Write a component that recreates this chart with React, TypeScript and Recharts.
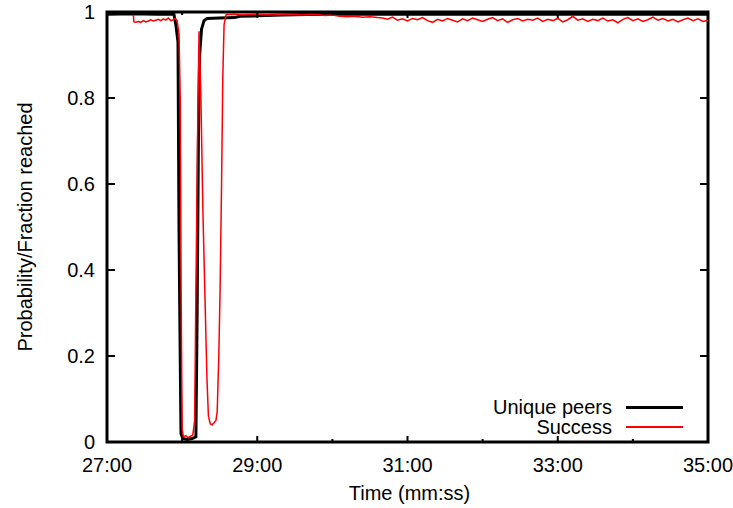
import React from "react";
import { LineChart, Line, XAxis, YAxis, ReferenceArea, Legend } from "recharts";

const FONT = "'Liberation Sans', Arial, Helvetica, sans-serif";

// time in seconds (27:00 = 1620)
const PEERS_T = [
  1620, 1640, 1660, 1672, 1673.5, 1675, 1676.7, 1677.5, 1678.3, 1679.1, 1680.5, 1684, 1688,
  1691, 1692, 1693, 1694, 1695.5, 1697.5, 1700, 1710, 1722, 1726, 1740, 1760, 1780, 1800,
  1850, 1900, 1950, 2000, 2050, 2100,
];
const PEERS_V = [
  0.995, 0.996, 0.995, 0.995, 0.994, 0.97, 0.93, 0.5, 0.25, 0.02, 0.008, 0.006, 0.008,
  0.012, 0.3, 0.7, 0.9, 0.96, 0.98, 0.985, 0.986, 0.987, 0.99, 0.991, 0.993, 0.994, 0.995,
  0.995, 0.995, 0.995, 0.995, 0.995, 0.995,
];

const SUCCESS_T = [
  1641, 1641.5, 1643, 1645, 1647, 1649, 1651, 1653, 1655, 1657, 1659, 1661, 1663, 1665, 1667,
  1669, 1671, 1673, 1674.5,
  1676, 1677.5, 1678.5, 1679.2, 1680, 1681, 1683, 1685, 1687, 1688.5,
  1690, 1691, 1692.5, 1693.5, 1695, 1696.5, 1698.3, 1699.8, 1701, 1702.5, 1704, 1705.5, 1707,
  1708, 1709.3, 1710.3, 1711.5, 1712.5, 1713.5, 1715,
  1716, 1722, 1728, 1734, 1740, 1746, 1752, 1758, 1764, 1770, 1776, 1782, 1788, 1794, 1800,
  1806, 1812, 1818, 1824, 1830, 1836,
  1840, 1844, 1848, 1852, 1856, 1860, 1864, 1868, 1872, 1876, 1880, 1884, 1888, 1892, 1896,
  1900, 1904, 1908, 1912, 1916, 1920, 1924, 1928, 1932, 1936, 1940, 1944, 1948, 1952, 1956,
  1960, 1964, 1968, 1972, 1976, 1980, 1984, 1988, 1992, 1996, 2000, 2004, 2008, 2012, 2016,
  2020, 2024, 2028, 2032, 2036, 2040, 2044, 2048, 2052, 2056, 2060, 2064, 2068, 2072, 2076,
  2080, 2084, 2088, 2092, 2096, 2100,
];
const SUCCESS_V = [
  0.993, 0.977, 0.976, 0.978, 0.976, 0.98, 0.977, 0.979, 0.982, 0.979, 0.981, 0.983, 0.98,
  0.984, 0.981, 0.986, 0.98, 0.982, 0.985,
  0.98, 0.95, 0.8, 0.35, 0.03, 0.012, 0.015, 0.01, 0.014, 0.016,
  0.05, 0.35, 0.75, 0.955, 0.8, 0.55, 0.33, 0.15, 0.06, 0.042, 0.04, 0.045, 0.05,
  0.07, 0.2, 0.35, 0.6, 0.85, 0.97, 0.993,
  0.994, 0.995, 0.993, 0.994, 0.995, 0.994, 0.993, 0.995, 0.994, 0.994, 0.993, 0.995, 0.994,
  0.992, 0.993, 0.99, 0.989, 0.99, 0.988, 0.989, 0.987,
  0.986, 0.983, 0.988, 0.981, 0.984, 0.979, 0.985, 0.982, 0.987, 0.98,
  0.976, 0.983, 0.979, 0.985, 0.981, 0.977, 0.984, 0.98, 0.986, 0.982,
  0.978, 0.983, 0.987, 0.98, 0.984, 0.976, 0.982, 0.985, 0.979, 0.983,
  0.981, 0.986, 0.978, 0.983, 0.98, 0.985, 0.977, 0.982, 0.99, 0.981,
  0.984, 0.978, 0.983, 0.98, 0.986, 0.979, 0.982, 0.975, 0.983, 0.987,
  0.98, 0.984, 0.978, 0.982, 0.988, 0.981, 0.985, 0.979, 0.983, 0.977,
  0.982, 0.986, 0.98, 0.984, 0.978, 0.981,
];

const X_TICKS = [1620, 1680, 1740, 1800, 1860, 1920, 1980, 2040, 2100];
const Y_TICKS = [0, 0.2, 0.4, 0.6, 0.8, 1];

const SERIES = [
  { name: "Unique peers", color: "#000000", width: 3 },
  { name: "Success", color: "#ff0000", width: 2 },
];

const W = 733;
const H = 508;
const MARGIN = { top: 12, right: 25, bottom: 36, left: 47 };
const PLOT_TOP = MARGIN.top;
const PLOT_RIGHT = W - MARGIN.right;

const peers = PEERS_T.map((t, i) => ({ t, v: PEERS_V[i] }));
const success = SUCCESS_T.map((t, i) => ({ t, v: SUCCESS_V[i] }));

const fmtTime = (s: number) => {
  const m = Math.floor(s / 60);
  const sec = s % 60;
  return `${m}:${sec < 10 ? "0" : ""}${sec}`;
};

const XTick = (props: any) => {
  const { x, y, payload } = props;
  const major = (payload.value - 1620) % 120 === 0;
  const len = major ? 6 : 3;
  return (
    <g>
      <line x1={x} x2={x} y1={y} y2={y - len} stroke="#000" strokeWidth={2} />
      <line x1={x} x2={x} y1={PLOT_TOP} y2={PLOT_TOP + len} stroke="#000" strokeWidth={2} />
      {major && (
        <text x={x} y={y + 30} textAnchor="middle" fontSize={20} fontFamily={FONT} fill="#000">
          {fmtTime(payload.value)}
        </text>
      )}
    </g>
  );
};

const YTick = (props: any) => {
  const { x, y, payload } = props;
  return (
    <g>
      <line x1={x} x2={x + 8} y1={y} y2={y} stroke="#000" strokeWidth={2} />
      <line x1={PLOT_RIGHT} x2={PLOT_RIGHT - 8} y1={y} y2={y} stroke="#000" strokeWidth={2} />
      <text x={x - 12} y={y} dy="0.35em" textAnchor="end" fontSize={20} fontFamily={FONT} fill="#000">
        {String(payload.value)}
      </text>
    </g>
  );
};

const YTitle = (props: any) => {
  const vb = props.viewBox;
  const cx = 25;
  const cy = vb.y + vb.height / 2;
  return (
    <text
      x={cx}
      y={cy}
      transform={`rotate(-90 ${cx} ${cy})`}
      textAnchor="middle"
      dominantBaseline="central"
      fontSize={20}
      fontFamily={FONT}
      fill="#000"
    >
      Probability/Fraction reached
    </text>
  );
};

const XTitle = (props: any) => {
  const vb = props.viewBox;
  return (
    <text x={vb.x + vb.width / 2 + 2} y={500} textAnchor="middle" fontSize={20} fontFamily={FONT} fill="#000">
      Time (mm:ss)
    </text>
  );
};

const LegendBox = () => (
  <div style={{ fontFamily: FONT, fontSize: 20, color: "#000" }}>
    {SERIES.map((s) => (
      <div
        key={s.name}
        style={{ display: "flex", justifyContent: "flex-end", alignItems: "center", height: 20, lineHeight: "20px" }}
      >
        <span>{s.name}</span>
        <span
          style={{ display: "inline-block", width: 57, marginLeft: 14, height: s.width, background: s.color }}
        />
      </div>
    ))}
  </div>
);

export default function App() {
  return (
    <div style={{ position: "absolute", left: 0, top: 0, background: "#fff" }}>
      <LineChart width={W} height={H} margin={MARGIN}>
        <XAxis
          dataKey="t"
          type="number"
          domain={[1620, 2100]}
          ticks={X_TICKS}
          interval={0}
          axisLine={false}
          tickLine={false}
          tickSize={0}
          tickMargin={0}
          height={30}
          tick={<XTick />}
          label={<XTitle />}
        />
        <YAxis
          type="number"
          domain={[0, 1]}
          ticks={Y_TICKS}
          interval={0}
          axisLine={false}
          tickLine={false}
          tickSize={0}
          tickMargin={0}
          width={60}
          tick={<YTick />}
          label={<YTitle />}
        />
        <ReferenceArea x1={1620} x2={2100} y1={0} y2={1} fill="none" fillOpacity={0} stroke="#000" strokeWidth={3} />
        <Line
          data={peers}
          dataKey="v"
          name="Unique peers"
          type="linear"
          stroke="#000000"
          strokeWidth={3}
          dot={false}
          isAnimationActive={false}
        />
        <Line
          data={success}
          dataKey="v"
          name="Success"
          type="linear"
          stroke="#ff0000"
          strokeWidth={1.5}
          dot={false}
          isAnimationActive={false}
        />
        <Legend
          layout="vertical"
          align="center"
          verticalAlign="middle"
          content={<LegendBox />}
          wrapperStyle={{ left: 470, top: 397, width: 213, right: "auto", bottom: "auto" }}
        />
      </LineChart>
    </div>
  );
}
